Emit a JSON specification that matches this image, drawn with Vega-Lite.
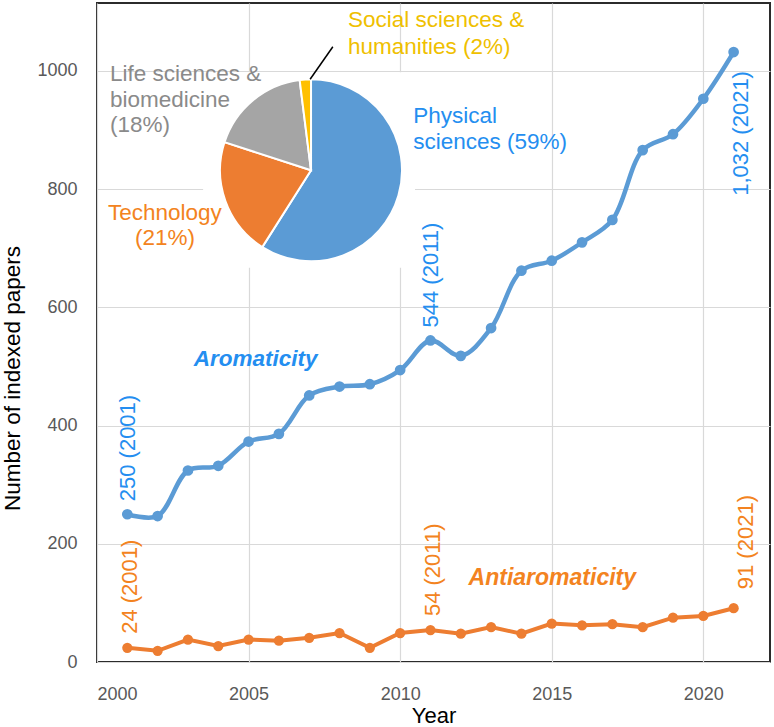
{
  "$schema": "https://vega.github.io/schema/vega-lite/v6.json",
  "width": 673,
  "height": 659,
  "autosize": {"type": "none"},
  "padding": {"left": 97, "top": 3, "right": 4, "bottom": 65},
  "background": "white",
  "config": {
    "font": "Liberation Sans",
    "view": {"stroke": "#2b2b2b", "strokeWidth": 2},
    "axis": {
      "grid": true, "gridColor": "#D9D9D9", "gridWidth": 1.2,
      "ticks": false, "tickSize": 0, "domain": false,
      "labelFont": "Liberation Sans", "labelFontSize": 18, "labelColor": "#595959",
      "titleFont": "Liberation Sans", "titleFontWeight": "normal", "titleColor": "#000000"
    }
  },
  "datasets": {
    "papers": [
      {"year": 2001, "series": "Aromaticity", "papers": 250},
      {"year": 2002, "series": "Aromaticity", "papers": 247},
      {"year": 2003, "series": "Aromaticity", "papers": 324},
      {"year": 2004, "series": "Aromaticity", "papers": 332},
      {"year": 2005, "series": "Aromaticity", "papers": 373},
      {"year": 2006, "series": "Aromaticity", "papers": 386},
      {"year": 2007, "series": "Aromaticity", "papers": 451},
      {"year": 2008, "series": "Aromaticity", "papers": 466},
      {"year": 2009, "series": "Aromaticity", "papers": 470},
      {"year": 2010, "series": "Aromaticity", "papers": 494},
      {"year": 2011, "series": "Aromaticity", "papers": 544},
      {"year": 2012, "series": "Aromaticity", "papers": 518},
      {"year": 2013, "series": "Aromaticity", "papers": 565},
      {"year": 2014, "series": "Aromaticity", "papers": 662},
      {"year": 2015, "series": "Aromaticity", "papers": 679},
      {"year": 2016, "series": "Aromaticity", "papers": 710},
      {"year": 2017, "series": "Aromaticity", "papers": 748},
      {"year": 2018, "series": "Aromaticity", "papers": 866},
      {"year": 2019, "series": "Aromaticity", "papers": 893},
      {"year": 2020, "series": "Aromaticity", "papers": 953},
      {"year": 2021, "series": "Aromaticity", "papers": 1032},
      {"year": 2001, "series": "Antiaromaticity", "papers": 24},
      {"year": 2002, "series": "Antiaromaticity", "papers": 19},
      {"year": 2003, "series": "Antiaromaticity", "papers": 38},
      {"year": 2004, "series": "Antiaromaticity", "papers": 27},
      {"year": 2005, "series": "Antiaromaticity", "papers": 38},
      {"year": 2006, "series": "Antiaromaticity", "papers": 36},
      {"year": 2007, "series": "Antiaromaticity", "papers": 41},
      {"year": 2008, "series": "Antiaromaticity", "papers": 49},
      {"year": 2009, "series": "Antiaromaticity", "papers": 24},
      {"year": 2010, "series": "Antiaromaticity", "papers": 49},
      {"year": 2011, "series": "Antiaromaticity", "papers": 54},
      {"year": 2012, "series": "Antiaromaticity", "papers": 48},
      {"year": 2013, "series": "Antiaromaticity", "papers": 59},
      {"year": 2014, "series": "Antiaromaticity", "papers": 48},
      {"year": 2015, "series": "Antiaromaticity", "papers": 65},
      {"year": 2016, "series": "Antiaromaticity", "papers": 62},
      {"year": 2017, "series": "Antiaromaticity", "papers": 64},
      {"year": 2018, "series": "Antiaromaticity", "papers": 59},
      {"year": 2019, "series": "Antiaromaticity", "papers": 75},
      {"year": 2020, "series": "Antiaromaticity", "papers": 78},
      {"year": 2021, "series": "Antiaromaticity", "papers": 91}
    ],
    "labels": [
      {"year": 2001, "series": "Aromaticity", "papers": 250, "label": "250 (2001)"},
      {"year": 2011, "series": "Aromaticity", "papers": 544, "label": "544 (2011)"},
      {"year": 2021, "series": "Aromaticity", "papers": 1032, "label": "1,032 (2021)"},
      {"year": 2001, "series": "Antiaromaticity", "papers": 24, "label": "24 (2001)"},
      {"year": 2011, "series": "Antiaromaticity", "papers": 54, "label": "54 (2011)"},
      {"year": 2021, "series": "Antiaromaticity", "papers": 91, "label": "91 (2021)"}
    ],
    "shares": [
      {"field": "Physical sciences", "share": 59},
      {"field": "Technology", "share": 21},
      {"field": "Life sciences & biomedicine", "share": 18},
      {"field": "Social sciences & humanities", "share": 2}
    ],
    "one": [{}]
  },
  "layer": [
    {
      "data": {"name": "papers"},
      "transform": [{"filter": "datum.series === 'Aromaticity'"}],
      "mark": {"type": "line", "interpolate": "catmull-rom", "color": "#5B9BD5", "strokeWidth": 4.5,
               "point": {"filled": true, "size": 115, "color": "#5B9BD5"}},
      "encoding": {
        "x": {
          "field": "year", "type": "quantitative",
          "scale": {"domain": [2000, 2022.2], "nice": false, "zero": false},
          "axis": {"title": "Year", "values": [2000, 2005, 2010, 2015, 2020], "format": "d", "labelPadding": 23, "titleFontSize": 22, "titlePadding": 2}
        },
        "y": {
          "field": "papers", "type": "quantitative",
          "scale": {"domain": [0, 1115], "nice": false},
          "axis": {"title": "Number of indexed papers", "values": [0, 200, 400, 600, 800, 1000], "format": "d", "labelPadding": 20, "titleFontSize": 22.5, "titleAngle": 270, "titleBaseline": "alphabetic", "titleX": -78, "titleY": 375}
        }
      }
    },
    {
      "data": {"name": "one"},
      "mark": {"type": "rect", "color": "white"},
      "encoding": {
        "x": {"datum": 2003.5, "type": "quantitative"},
        "x2": {"datum": 2010.49},
        "y": {"datum": 998, "type": "quantitative"},
        "y2": {"datum": 667}
      }
    },
    {
      "data": {"name": "papers"},
      "transform": [{"filter": "datum.series === 'Antiaromaticity'"}],
      "mark": {"type": "line", "interpolate": "linear", "color": "#ED7D31", "strokeWidth": 4,
               "point": {"filled": true, "size": 105, "color": "#ED7D31"}},
      "encoding": {
        "x": {"field": "year", "type": "quantitative"},
        "y": {"field": "papers", "type": "quantitative"}
      }
    },
    {
      "data": {"name": "shares"},
      "mark": {"type": "arc", "outerRadius": 91, "stroke": "white", "strokeWidth": 2},
      "encoding": {
        "x": {"datum": 2007.06, "type": "quantitative"},
        "y": {"datum": 832, "type": "quantitative"},
        "theta": {"field": "share", "type": "quantitative"},
        "order": {"field": "share", "type": "quantitative", "sort": "descending"},
        "color": {"field": "field", "type": "nominal", "legend": null,
                  "scale": {"domain": ["Physical sciences", "Technology", "Life sciences & biomedicine", "Social sciences & humanities"],
                            "range": ["#5B9BD5", "#ED7D31", "#A5A5A5", "#FFC000"]}}
      }
    },
    {
      "data": {"name": "one"},
      "mark": {"type": "rule", "color": "#000000", "strokeWidth": 1.5},
      "encoding": {
        "x": {"datum": 2007.03, "type": "quantitative"},
        "y": {"datum": 986, "type": "quantitative"},
        "x2": {"datum": 2007.78},
        "y2": {"datum": 1041}
      }
    },
    {
      "data": {"name": "one"},
      "mark": {"type": "text", "align": "left", "baseline": "alphabetic", "fontSize": 22.5, "lineHeight": 25.5, "color": "#8A8A8A"},
      "encoding": {
        "x": {"datum": 2000.43, "type": "quantitative"},
        "y": {"datum": 983, "type": "quantitative"},
        "text": {"value": ["Life sciences &", "biomedicine", "(18%)"]}
      }
    },
    {
      "data": {"name": "one"},
      "mark": {"type": "text", "align": "center", "baseline": "alphabetic", "fontSize": 22.5, "lineHeight": 25, "color": "#F38320"},
      "encoding": {
        "x": {"datum": 2002.24, "type": "quantitative"},
        "y": {"datum": 748, "type": "quantitative"},
        "text": {"value": ["Technology", "(21%)"]}
      }
    },
    {
      "data": {"name": "one"},
      "mark": {"type": "text", "align": "left", "baseline": "alphabetic", "fontSize": 22.5, "lineHeight": 27, "color": "#EFC000"},
      "encoding": {
        "x": {"datum": 2008.28, "type": "quantitative"},
        "y": {"datum": 1074, "type": "quantitative"},
        "text": {"value": ["Social sciences &", "humanities (2%)"]}
      }
    },
    {
      "data": {"name": "one"},
      "mark": {"type": "text", "align": "left", "baseline": "alphabetic", "fontSize": 22.5, "lineHeight": 25.7, "color": "#248EF0"},
      "encoding": {
        "x": {"datum": 2010.43, "type": "quantitative"},
        "y": {"datum": 912, "type": "quantitative"},
        "text": {"value": ["Physical", "sciences (59%)"]}
      }
    },
    {
      "data": {"name": "one"},
      "mark": {"type": "text", "align": "center", "baseline": "alphabetic", "fontSize": 22.5, "fontWeight": "bold", "fontStyle": "italic", "color": "#248EF0"},
      "encoding": {
        "x": {"datum": 2005.23, "type": "quantitative"},
        "y": {"datum": 501, "type": "quantitative"},
        "text": {"value": "Aromaticity"}
      }
    },
    {
      "data": {"name": "one"},
      "mark": {"type": "text", "align": "center", "baseline": "alphabetic", "fontSize": 23, "fontWeight": "bold", "fontStyle": "italic", "color": "#F38320"},
      "encoding": {
        "x": {"datum": 2015.02, "type": "quantitative"},
        "y": {"datum": 130, "type": "quantitative"},
        "text": {"value": "Antiaromaticity"}
      }
    },
    {
      "data": {"name": "labels"},
      "transform": [{"filter": "datum.series === 'Aromaticity' && datum.year < 2021"}],
      "mark": {"type": "text", "angle": 270, "align": "left", "baseline": "middle", "fontSize": 22, "dx": 13, "dy": 1, "color": "#248EF0"},
      "encoding": {
        "x": {"field": "year", "type": "quantitative"},
        "y": {"field": "papers", "type": "quantitative"},
        "text": {"field": "label"}
      }
    },
    {
      "data": {"name": "labels"},
      "transform": [{"filter": "datum.series === 'Aromaticity' && datum.year === 2021"}],
      "mark": {"type": "text", "angle": 270, "align": "right", "baseline": "middle", "fontSize": 22, "dx": -19, "dy": 7, "color": "#248EF0"},
      "encoding": {
        "x": {"field": "year", "type": "quantitative"},
        "y": {"field": "papers", "type": "quantitative"},
        "text": {"field": "label"}
      }
    },
    {
      "data": {"name": "labels"},
      "transform": [{"filter": "datum.series === 'Antiaromaticity' && datum.year < 2021"}],
      "mark": {"type": "text", "angle": 270, "align": "left", "baseline": "middle", "fontSize": 22, "dx": 14, "dy": 3, "color": "#F38320"},
      "encoding": {
        "x": {"field": "year", "type": "quantitative"},
        "y": {"field": "papers", "type": "quantitative"},
        "text": {"field": "label"}
      }
    },
    {
      "data": {"name": "labels"},
      "transform": [{"filter": "datum.series === 'Antiaromaticity' && datum.year === 2021"}],
      "mark": {"type": "text", "angle": 270, "align": "left", "baseline": "middle", "fontSize": 22, "dx": 19, "dy": 12, "color": "#F38320"},
      "encoding": {
        "x": {"field": "year", "type": "quantitative"},
        "y": {"field": "papers", "type": "quantitative"},
        "text": {"field": "label"}
      }
    }
  ]
}
